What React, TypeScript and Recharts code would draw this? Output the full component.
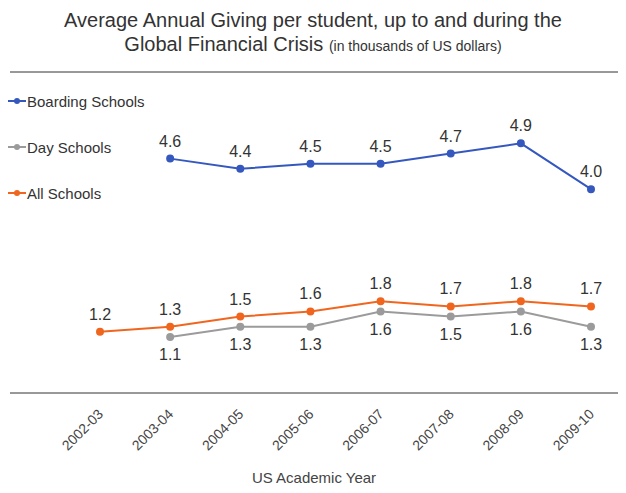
import { LineChart, Line, XAxis, YAxis, LabelList, ReferenceLine } from 'recharts';

const years = ['2002-03', '2003-04', '2004-05', '2005-06', '2006-07', '2007-08', '2008-09', '2009-10'];
const boarding = [null, 4.6, 4.4, 4.5, 4.5, 4.7, 4.9, 4.0];
const day = [null, 1.1, 1.3, 1.3, 1.6, 1.5, 1.6, 1.3];
const all = [1.2, 1.3, 1.5, 1.6, 1.8, 1.7, 1.8, 1.7];

const data = years.map((year, i) => ({ year, boarding: boarding[i], day: day[i], all: all[i] }));

const series = [
  { key: 'boarding', name: 'Boarding Schools', color: '#3558bf', pos: 'top' },
  { key: 'day', name: 'Day Schools', color: '#9b9b9b', pos: 'bottom' },
  { key: 'all', name: 'All Schools', color: '#f0661f', pos: 'top' },
];

const font = '"Liberation Sans", Arial, sans-serif';

const Tick = ({ x, y, payload }: any) => (
  <text x={x + 4} y={y + 14} transform={`rotate(-45 ${x + 4} ${y + 14})`} textAnchor="end"
    fontSize={14} fill="#444" fontFamily={font}>{payload.value}</text>
);

const App = () => (
  <div style={{ position: 'relative', width: 618, height: 485, fontFamily: font }}>
    <div style={{ position: 'absolute', top: 0, left: 0, width: 610, textAlign: 'center', color: '#333', fontSize: 20, lineHeight: '24px' }}>
      Average Annual Giving per student, up to and during the<br />
      Global Financial Crisis <span style={{ fontSize: 14 }}>(in thousands of US dollars)</span>
    </div>
    <div style={{ position: 'absolute', left: 0, top: 70 }}>
      {series.map((s) => (
        <div key={s.key} style={{ display: 'flex', alignItems: 'center', height: 46, fontSize: 15, color: '#333' }}>
          <svg width={18} height={10}><line x1={0} y1={5} x2={18} y2={5} stroke={s.color} strokeWidth={2} /><circle cx={9} cy={5} r={3} fill={s.color} /></svg>
          <span style={{ marginLeft: 1 }}>{s.name}</span>
        </div>
      ))}
    </div>
    <LineChart width={618} height={485} data={data} margin={{ top: 64, right: 8, bottom: 0, left: 2 }}>
      <XAxis dataKey="year" padding={{ left: 90, right: 27 }} tickLine={false} axisLine={{ stroke: '#333' }}
        tick={<Tick />} height={100} interval={0}
        label={{ value: 'US Academic Year', position: 'insideBottom', offset: 10, fill: '#444', fontSize: 15, fontFamily: font }} />
      <YAxis hide domain={[0, 6.3]} />
      <ReferenceLine y={6.3} stroke="#333" />
      {series.map((s) => (
        <Line key={s.key} dataKey={s.key} stroke={s.color} strokeWidth={2} isAnimationActive={false}
          dot={{ r: 3, fill: s.color, stroke: s.color }}>
          <LabelList dataKey={s.key} position={s.pos as any} offset={12} fill="#333" fontSize={16}
            fontFamily={font} formatter={(v: any) => (v == null ? '' : Number(v).toFixed(1))} />
        </Line>
      ))}
    </LineChart>
  </div>
);

export default App;
